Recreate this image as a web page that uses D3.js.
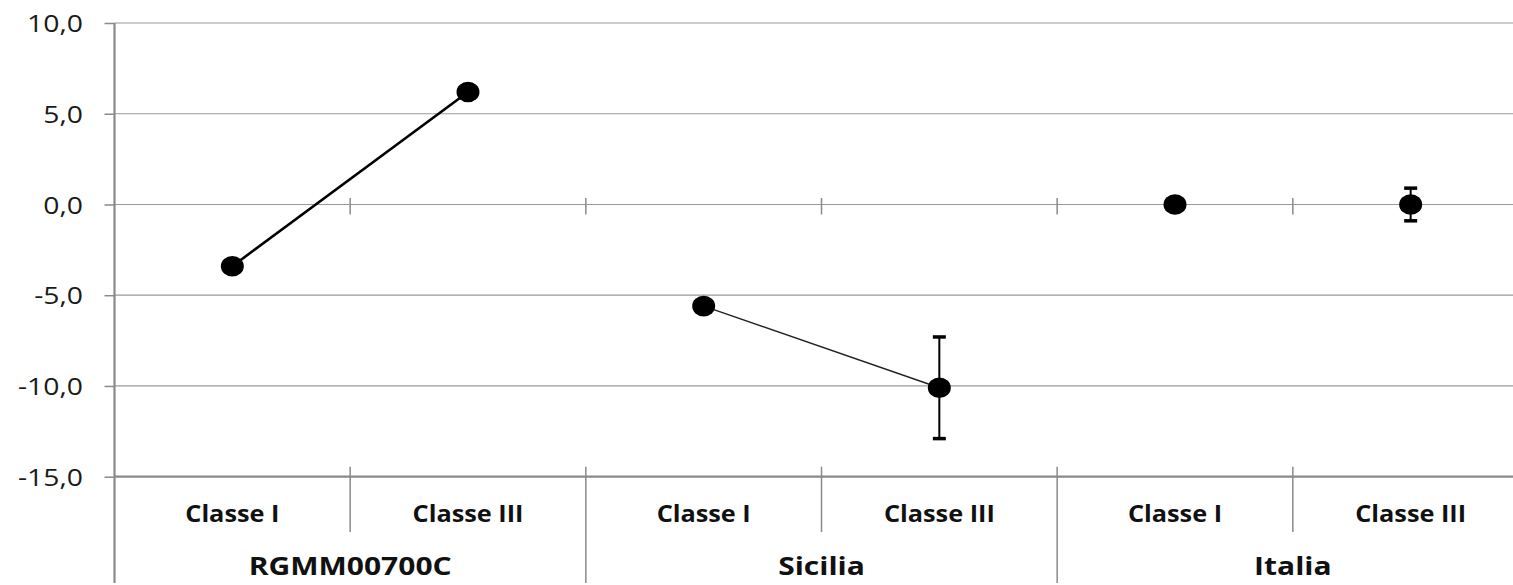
<!DOCTYPE html>
<html>
<head>
<meta charset="utf-8">
<script src="https://cdn.jsdelivr.net/npm/d3@7"></script>
<style>
  html, body { margin: 0; padding: 0; background: #fff; overflow: hidden; }
  text { font-family: "Open Sans", "Noto Sans", sans-serif; }
</style>
</head>
<body>
<svg id="chart" width="1513" height="585"></svg>
<script>
// Categories: two classes within each of three groups
const groups = ["RGMM00700C", "Sicilia", "Italia"];
const classes = ["Classe I", "Classe III"];
// One value per class within each group
const values = [-3.4, 6.2, -5.6, -10.1, 0.0, 0.0];
// Error bar half-widths (0 = none drawn)
const errors = [0, 0, 0, 2.8, 0, 0.9];
// Connecting line weight per group (0 = no line)
const lineWidths = [2.6, 1.4, 0];
const yTicks = [10, 5, 0, -5, -10, -15];

const svg = d3.select("#chart");

const plotLeft = 114.5, plotRight = 1528.5, plotTop = 23, plotBottom = 476.7;

const keys = d3.range(groups.length * classes.length);
const x = d3.scaleBand().domain(keys).range([plotLeft, plotRight]).padding(0);
const y = d3.scaleLinear().domain([-15, 10]).range([plotBottom, plotTop]);

const fmt = v => d3.format(".1f")(v).replace(".", ",").replace("−", "-");

// horizontal grid lines
svg.append("g")
  .selectAll("line")
  .data(yTicks.filter(t => t !== -15))
  .join("line")
  .attr("x1", plotLeft).attr("x2", 1513)
  .attr("y1", d => y(d)).attr("y2", d => y(d))
  .attr("stroke", "#9a9a9a").attr("stroke-width", 1.2);

// left value axis
const yAxis = svg.append("g")
  .attr("transform", `translate(${plotLeft},0)`)
  .call(d3.axisLeft(y).tickValues(yTicks).tickSize(10).tickPadding(22).tickFormat(fmt));
yAxis.select(".domain").attr("stroke", "#8a8a8a").attr("stroke-width", 2.2)
  .attr("d", `M0,${plotTop}V583`);
yAxis.selectAll(".tick line").attr("stroke", "#8a8a8a").attr("stroke-width", 1.5);
yAxis.selectAll(".tick text")
  .attr("fill", "#1a1a1a")
  .attr("x", 0)
  .attr("transform", "translate(-31.5,0) scale(1.18,1)")
  .attr("font-size", 24)
  .style("font-size", "24px")
  .style("font-family", "'Open Sans', sans-serif")
  .attr("dy", "0.36em");

// bottom axis line
svg.append("line")
  .attr("x1", plotLeft).attr("x2", 1513)
  .attr("y1", plotBottom).attr("y2", plotBottom)
  .attr("stroke", "#8a8a8a").attr("stroke-width", 2.2);

// tick marks where the category axis crosses zero
const boundaries = keys.slice(1).map(k => x(k));
svg.append("g")
  .selectAll("line")
  .data(boundaries)
  .join("line")
  .attr("x1", d => d).attr("x2", d => d)
  .attr("y1", y(0) - 6.5).attr("y2", y(0) + 10)
  .attr("stroke", "#8a8a8a").attr("stroke-width", 1.5);

// separators in the label area: short between classes, long between groups
svg.append("g")
  .selectAll("line")
  .data(boundaries.map((b, i) => ({ b, group: (i + 1) % classes.length === 0 })))
  .join("line")
  .attr("x1", d => d.b).attr("x2", d => d.b)
  .attr("y1", plotBottom - 10)
  .attr("y2", d => d.group ? 583 : 532)
  .attr("stroke", "#8a8a8a").attr("stroke-width", 1.5);

// class labels
svg.append("g")
  .selectAll("text")
  .data(keys)
  .join("text")
  .attr("transform", d => `translate(${x(d) + x.bandwidth() / 2},521.5) scale(1.1,1)`)
  .attr("text-anchor", "middle")
  .attr("fill", "#111")
  .style("font-size", "23px")
  .style("font-weight", "700")
  .text(d => classes[d % classes.length]);

// group labels
svg.append("g")
  .selectAll("text")
  .data(groups)
  .join("text")
  .attr("transform", (d, i) =>
    `translate(${x(i * classes.length) + x.bandwidth() * classes.length / 2},575) scale(1.2,1)`)
  .attr("text-anchor", "middle")
  .attr("fill", "#111")
  .style("font-size", "25px")
  .style("font-weight", "700")
  .text(d => d);

const cx = k => x(k) + x.bandwidth() / 2;

// connecting lines per group
const line = d3.line().x(d => cx(d)).y(d => y(values[d]));
groups.forEach((g, gi) => {
  if (!lineWidths[gi]) return;
  const idx = d3.range(classes.length).map(c => gi * classes.length + c);
  svg.append("path")
    .datum(idx)
    .attr("d", line)
    .attr("fill", "none")
    .attr("stroke", gi === 0 ? "#000" : "#222")
    .attr("stroke-width", lineWidths[gi]);
});

// error bars
const eb = svg.append("g").selectAll("g")
  .data(keys.filter(k => errors[k] > 0))
  .join("g");
eb.append("line")
  .attr("x1", d => cx(d)).attr("x2", d => cx(d))
  .attr("y1", d => y(values[d] + errors[d])).attr("y2", d => y(values[d] - errors[d]))
  .attr("stroke", "#000").attr("stroke-width", 2);
eb.selectAll(".cap")
  .data(d => [values[d] + errors[d], values[d] - errors[d]].map(v => ({ k: d, v })))
  .join("line")
  .attr("class", "cap")
  .attr("x1", d => cx(d.k) - 6.5).attr("x2", d => cx(d.k) + 6.5)
  .attr("y1", d => y(d.v)).attr("y2", d => y(d.v))
  .attr("stroke", "#000").attr("stroke-width", 3.5);

// point markers
svg.append("g")
  .selectAll("ellipse")
  .data(keys)
  .join("ellipse")
  .attr("cx", d => cx(d))
  .attr("cy", d => y(values[d]))
  .attr("rx", 11.5).attr("ry", 10.3)
  .attr("fill", "#000");
</script>
</body>
</html>
